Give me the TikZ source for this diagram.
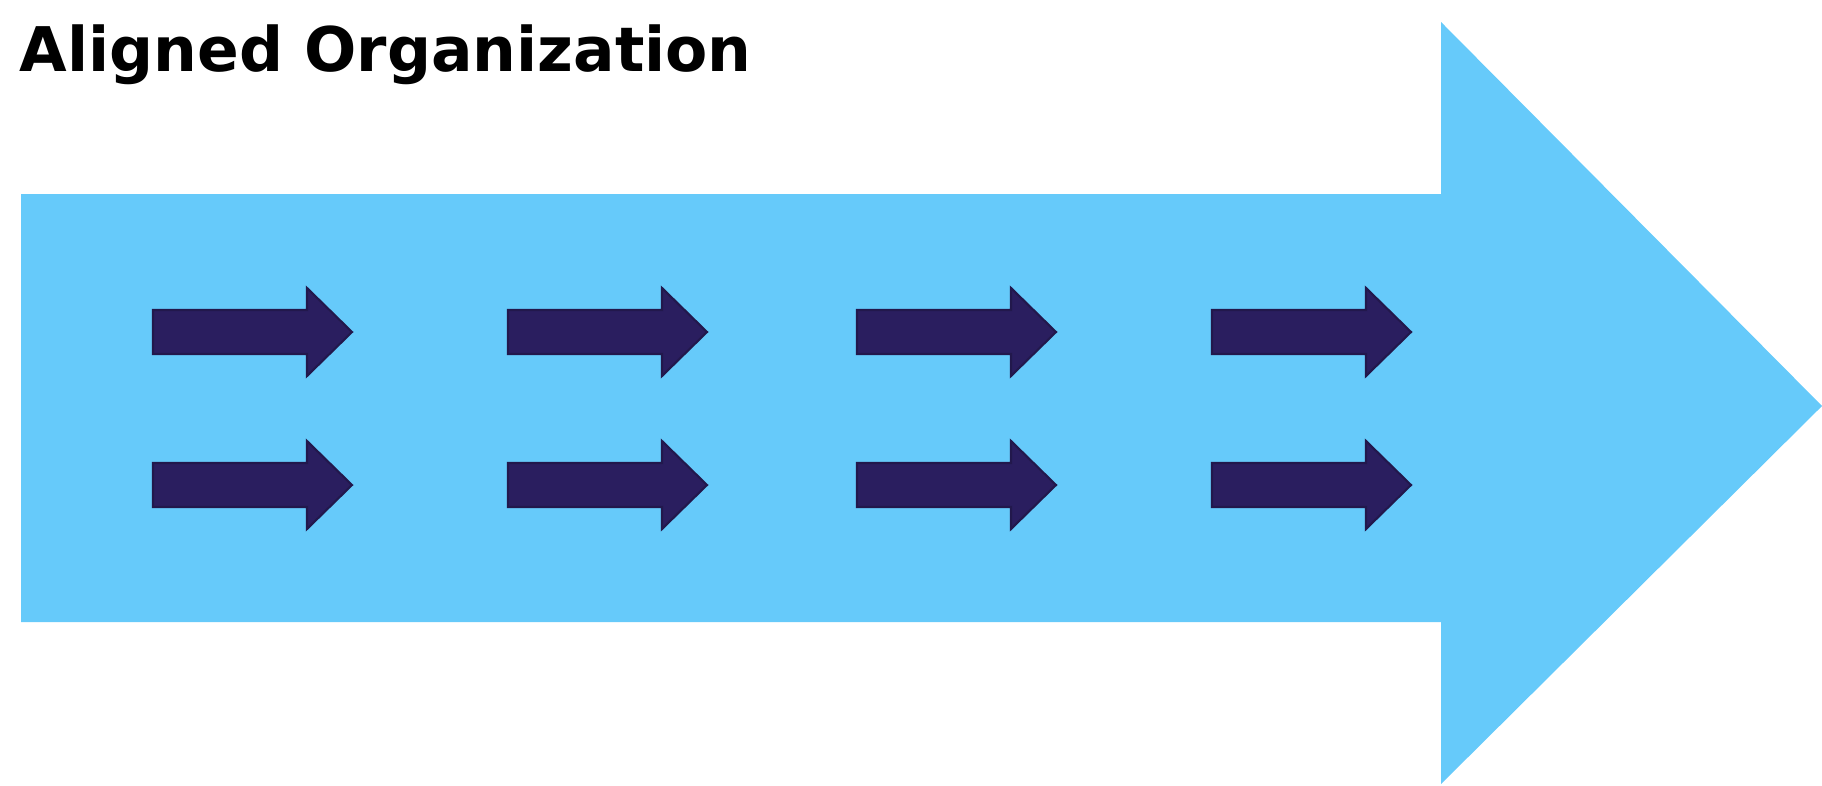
\documentclass[tikz,border=0pt]{standalone}
\usepackage{fontspec}
\setmainfont{DejaVu Sans}
\definecolor{flowblue}{RGB}{102,202,250}
\definecolor{stepnavy}{RGB}{42,30,95}
\tikzset{
  smallarrow/.style={fill=stepnavy,draw=stepnavy!80!black,line width=0.6pt},
  title/.style={anchor=base west,inner sep=0pt,font=\bfseries\fontsize{17.5}{20}\selectfont}
}
\begin{document}
\begin{tikzpicture}[x=0.01cm,y=-0.01cm]
        \useasboundingbox (0,0) rectangle (1822,785);
        \node[title] (heading) at (19,72) {Aligned Organization};
        % big arrow
        \fill[flowblue] (21,194) -- (1441,194) -- (1441,22) -- (1822,406)
          -- (1441,784) -- (1441,622) -- (21,622) -- cycle;
        % two rows of small arrows
        \foreach \x in {153,508,857,1212}
          \foreach \y in {332,485}
            \filldraw[smallarrow] (\x,\y-22) -- ++(154,0) -- ++(0,-22) -- ++(45,44)
              -- ++(-45,44) -- ++(0,-22) -- ++(-154,0) -- cycle;
      \end{tikzpicture}
\end{document}
